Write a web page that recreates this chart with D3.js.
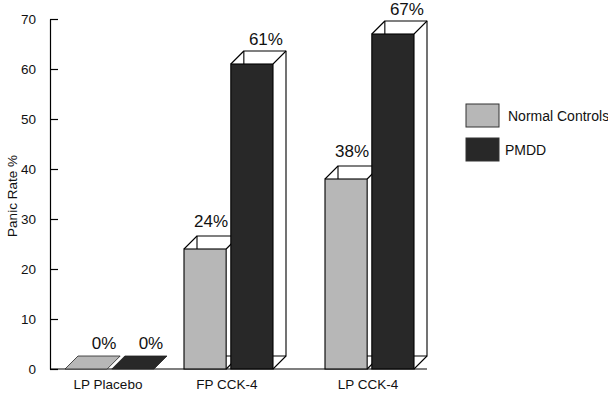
<!DOCTYPE html>
<html>
<head>
<meta charset="utf-8">
<script src="https://cdn.jsdelivr.net/npm/d3@7"></script>
<style>
  body { margin: 0; background: #fff; }
  svg { display: block; font-family: "Liberation Sans", Arial, Helvetica, sans-serif; }
</style>
</head>
<body>
<svg id="chart" width="608" height="393"></svg>
<script>
const groups = ['LP Placebo', 'FP CCK-4', 'LP CCK-4'];
const series = ['Normal Controls', 'PMDD'];
const normalControls = [0, 24, 38];
const pmdd = [0, 61, 67];
const yTicks = [0, 10, 20, 30, 40, 50, 60, 70];

const colors = { 'Normal Controls': '#b7b7b7', PMDD: '#282828' };
// label nudges, the source placed them a bit right of the bar
const labelShift = { 'Normal Controls': 6, PMDD: 14 };
const labelLift = { 'Normal Controls': 9, PMDD: 6.5 };

const width = 608;
const height = 393;
const depth = 13;

const svg = d3.select('#chart');

const y = d3.scaleLinear([0, 70], [369, 19]);
// groups are not evenly spaced in the source
const xGroup = d3.scaleOrdinal(groups, [65, 184, 325]);
const xSeries = d3.scaleBand(series, [0, 89]).paddingInner(0.1);
const bw = xSeries.bandwidth();

const rows = [];
groups.forEach((g, i) => {
  rows.push({ group: g, key: 'Normal Controls', value: normalControls[i] });
  rows.push({ group: g, key: 'PMDD', value: pmdd[i] });
});

// y axis
const yAxis = d3.axisLeft(y).tickValues(yTicks).tickSizeInner(-8).tickSizeOuter(0).tickPadding(14);
const ga = svg.append('g').attr('transform', 'translate(50,0)').call(yAxis);
ga.select('.domain').attr('stroke', '#000').attr('stroke-width', 1.2);
ga.selectAll('.tick line').attr('stroke', '#000').attr('stroke-width', 1.2);
ga.selectAll('.tick text').attr('font-size', 13.5).attr('fill', '#111').attr('font-family', null);

svg.append('text')
  .attr('transform', `translate(17,${y(35) + 2}) rotate(-90)`)
  .attr('text-anchor', 'middle')
  .attr('font-size', 13.5)
  .attr('fill', '#111')
  .text('Panic Rate %');

// baseline
const lastX = xGroup(groups[groups.length - 1]) + xSeries('PMDD') + bw + depth;
svg.append('line')
  .attr('x1', 50).attr('x2', lastX)
  .attr('y1', y(0)).attr('y2', y(0))
  .attr('stroke', '#000').attr('stroke-width', 1.2);

// 3d bars
const bars = svg.append('g')
  .selectAll('g')
  .data(rows)
  .join('g');

bars.each(function (d) {
  const g = d3.select(this);
  const x0 = xGroup(d.group) + xSeries(d.key);
  const x1 = x0 + bw;
  const yt = y(d.value);
  const yb = y(0);
  const fill = colors[d.key];
  const line = { stroke: '#000', 'stroke-width': 1.1, 'stroke-linejoin': 'round' };

  if (d.value === 0) {
    g.append('path')
      .attr('d', `M${x0},${yb}L${x0 + depth},${yb - depth}L${x1 + depth},${yb - depth}L${x1},${yb}Z`)
      .attr('fill', fill)
      .attr('stroke', '#222').attr('stroke-width', 0.8);
  } else {
    // back box, drawn as wire frame
    g.append('rect')
      .attr('x', x0 + depth).attr('y', yt - depth)
      .attr('width', bw).attr('height', yb - yt)
      .attr('fill', '#fff')
      .call((s) => Object.entries(line).forEach(([k, v]) => s.attr(k, v)));
    const edges = [
      [x0, yt, x0 + depth, yt - depth],
      [x1, yt, x1 + depth, yt - depth],
      [x1, yb, x1 + depth, yb - depth],
    ];
    g.selectAll('line.edge')
      .data(edges)
      .join('line')
      .attr('class', 'edge')
      .attr('x1', (e) => e[0]).attr('y1', (e) => e[1])
      .attr('x2', (e) => e[2]).attr('y2', (e) => e[3])
      .attr('stroke', '#000').attr('stroke-width', 1.1);
    g.append('rect')
      .attr('x', x0).attr('y', yt)
      .attr('width', bw).attr('height', yb - yt)
      .attr('fill', fill)
      .attr('stroke', '#000').attr('stroke-width', 1.1);
  }

  const shift = d.value === 0 ? 18 : labelShift[d.key];
  const lift = d.value === 0 ? 7 : labelLift[d.key];
  g.append('text')
    .attr('x', x0 + bw / 2 + shift)
    .attr('y', yt - depth - lift)
    .attr('text-anchor', 'middle')
    .attr('font-size', 17)
    .attr('fill', '#111')
    .text(`${d.value}%`);
});

// group labels
svg.append('g')
  .selectAll('text')
  .data(groups)
  .join('text')
  .attr('x', (g) => xGroup(g) + 44 - 1)
  .attr('y', 389)
  .attr('text-anchor', 'middle')
  .attr('font-size', 13.5)
  .attr('fill', '#111')
  .text((g) => g);

// legend
const legend = svg.append('g')
  .selectAll('g')
  .data(series)
  .join('g')
  .attr('transform', (s, i) => `translate(466,${104 + i * 34})`);
legend.append('rect')
  .attr('width', 33).attr('height', 23)
  .attr('fill', (s) => colors[s])
  .attr('stroke', '#333').attr('stroke-width', 1);
legend.append('text')
  .attr('x', (s, i) => (i === 0 ? 42 : 39))
  .attr('y', 16.5)
  .attr('font-size', 14)
  .attr('fill', '#111')
  .text((s) => s);
</script>
</body>
</html>
